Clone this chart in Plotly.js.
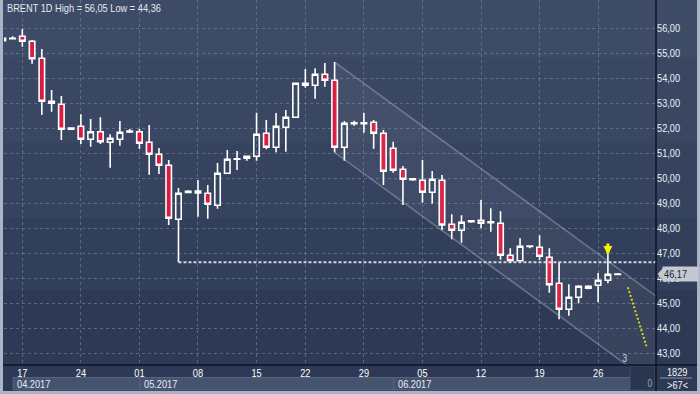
<!DOCTYPE html>
<html><head><meta charset="utf-8">
<script src="https://cdn.plot.ly/plotly-3.0.1.min.js"></script>
<style>html,body{margin:0;padding:0;background:#2d3a55;overflow:hidden}#chart{width:700px;height:394px}</style>
</head><body><div id="chart"></div>
<script>
// ---- data ----
const dates = ['2017-04-14','2017-04-16','2017-04-17','2017-04-18','2017-04-19','2017-04-20','2017-04-21','2017-04-23',
 '2017-04-24','2017-04-25','2017-04-26','2017-04-27','2017-04-28','2017-04-30',
 '2017-05-01','2017-05-02','2017-05-03','2017-05-04','2017-05-05','2017-05-07',
 '2017-05-08','2017-05-09','2017-05-10','2017-05-11','2017-05-12','2017-05-14',
 '2017-05-15','2017-05-16','2017-05-17','2017-05-18','2017-05-19',
 '2017-05-22','2017-05-23','2017-05-24','2017-05-25','2017-05-26','2017-05-28',
 '2017-05-29','2017-05-30','2017-05-31','2017-06-01','2017-06-02','2017-06-04',
 '2017-06-05','2017-06-06','2017-06-07','2017-06-08','2017-06-09','2017-06-11',
 '2017-06-12','2017-06-13','2017-06-14','2017-06-15','2017-06-16','2017-06-18',
 '2017-06-19','2017-06-20','2017-06-21','2017-06-22','2017-06-23','2017-06-25',
 '2017-06-26','2017-06-27','2017-06-28'];
const open  = [55.50,55.58,55.68,55.48,54.80,53.08,52.96,51.96, 52.08,51.56,51.86,51.44,51.56,51.85,
 51.86,51.44,50.96,50.52,48.36,49.43, 49.49,49.40,48.92,50.20,50.76,50.80,
 50.88,51.80,51.24,52.04,52.44, 53.80,53.72,54.16,53.92,51.24,52.18,
 52.18,52.24,51.80,51.20,50.36,49.94, 49.92,49.44,49.92,48.16,47.92,48.26,
 48.32,48.22,48.20,46.92,46.70,47.27, 47.24,46.84,45.80,44.76,45.24,45.68,
 45.72,45.92,46.15];
const high  = [55.62,55.68,55.97,55.53,55.17,53.53,53.29,52.02, 52.56,52.37,52.44,51.76,52.29,51.97,
 51.97,52.13,51.21,50.73,49.61,49.52, 49.93,49.73,50.61,51.13,51.09,50.88,
 52.62,52.33,52.61,52.73,53.80, 54.37,54.40,54.61,54.65,52.29,52.30,
 52.62,52.33,51.93,51.46,50.49,49.98, 50.73,50.29,50.13,48.56,48.52,48.32,
 49.13,48.80,48.68,47.20,47.60,47.29, 47.72,47.20,46.64,45.76,45.72,45.72,
 46.21,47.00,46.21];
const low   = [55.48,55.55,55.26,54.58,52.53,52.66,51.53,51.95, 51.37,51.26,51.37,50.42,51.30,51.81,
 51.17,50.14,50.17,48.13,46.64,49.40, 48.46,48.38,48.78,50.20,50.33,50.70,
 50.70,51.16,51.04,51.06,52.44, 53.62,53.18,53.66,51.03,50.70,52.10,
 51.82,51.18,49.73,50.22,48.93,49.90, 49.02,48.98,47.93,47.56,47.42,48.22,
 48.00,47.86,46.74,46.62,46.70,47.20, 46.73,45.42,44.36,44.50,45.00,45.56,
 45.04,45.80,46.12];
const close = [55.60,55.60,55.48,54.78,53.08,53.00,51.96,52.01, 51.56,51.86,51.46,51.60,51.84,51.89,
 51.40,50.96,50.52,48.40,49.40,49.48, 49.41,48.96,50.20,50.76,50.78,50.88,
 51.76,51.24,52.08,52.44,53.80, 53.72,54.16,53.92,51.24,52.20,52.22,
 52.22,51.80,50.28,50.32,49.96,49.98, 49.44,49.96,48.13,47.92,48.24,48.30,
 48.20,48.26,46.92,46.70,47.28,47.29, 46.88,45.74,44.76,45.24,45.68,45.60,
 45.92,46.16,46.17];

const tickDates  = ['2017-04-17','2017-04-24','2017-05-01','2017-05-08','2017-05-15','2017-05-22','2017-05-29','2017-06-05','2017-06-12','2017-06-19','2017-06-26'];
const priceTicks = [43,44,45,46,47,48,49,50,51,52,53,54,55,56];
const monthLabels = ['04.2017','05.2017','06.2017'];
const monthStarts = ['2017-04-16','2017-05-01','2017-06-01'];
const titleText = 'BRENT 1D High = 56,05 Low = 44,36';
const lastPrice = 46.17;
// trend channel (start at 25 May high / low, runs off to the right)
const chanStart = '2017-05-25';
const chanEndOffset = 33;
const chanUpper = [54.65, 45.27];
const chanLower = [51.04, 41.66];
// support level (low of 05 May)
const levelDate = '2017-05-05';
const levelValue = 46.64;
// projection (yellow dotted)
const projX = [64.05, 65.95];
const projY = [45.64, 43.28];
const markerDate = '2017-06-27';
const markerValue = 46.93;

// ---- layout helpers ----
const W=700,H=394,ML=4,MR=44,MT=0,MB=29;
const PW=W-ML-MR, PH=H-MT-MB;
const px2p = px => (px-ML)/PW;
const py2p = py => (H-MB-py)/PH;
const xIdx = d => dates.indexOf(d);
const xs = dates.map((d,i)=>i);
const fmt = v => v.toFixed(2).replace('.',',');
const FONT = "'Liberation Sans Narrow','Liberation Sans',Arial,sans-serif";

const traces = [];
const cs = xIdx(chanStart);
traces.push({type:'scatter',mode:'lines',x:[cs,cs+chanEndOffset],y:chanLower,
  line:{color:'rgba(190,200,222,0.38)',width:1.5},hoverinfo:'skip',showlegend:false});
traces.push({type:'scatter',mode:'lines',x:[cs,cs+chanEndOffset],y:chanUpper,fill:'tonexty',
  fillcolor:'rgba(255,255,255,0.05)',
  line:{color:'rgba(190,200,222,0.38)',width:1.5},hoverinfo:'skip',showlegend:false});
traces.push({type:'scatter',mode:'lines',x:[xIdx(levelDate),70],y:[levelValue,levelValue],
  line:{color:'rgba(225,228,235,0.9)',width:2,dash:'3px,2px'},hoverinfo:'skip',showlegend:false});
traces.push({type:'candlestick',x:xs,open:open,high:high,low:low,close:close,
  increasing:{line:{color:'#ffffff',width:1.6},fillcolor:'rgba(0,0,0,0)'},
  decreasing:{line:{color:'#ffffff',width:1.6},fillcolor:'#dc1a40'},
  whiskerwidth:0,hoverinfo:'skip',showlegend:false});
traces.push({type:'scatter',mode:'lines',x:projX,y:projY,
  line:{color:'#d6d61a',width:2,dash:'2px,2px'},hoverinfo:'skip',showlegend:false});

// background bands
const bandEdges=[0,57,143,218,290,365];
const bandCols=['#3e4b67','#3a4763','#36435f','#323f5a','#2e3a55'];
const shapes=[];
for(let i=0;i<bandCols.length;i++){
  shapes.push({type:'rect',xref:'paper',yref:'paper',x0:px2p(0),x1:px2p(700),y0:py2p(bandEdges[i+1]),y1:py2p(bandEdges[i]),
    fillcolor:bandCols[i],line:{width:0},layer:'below'});
}
shapes.push({type:'rect',xref:'paper',yref:'paper',x0:px2p(0),x1:px2p(700),y0:py2p(394),y1:py2p(365),fillcolor:'#2e3a55',line:{width:0},layer:'below'});
const mIdx = monthStarts.map(xIdx);
const mEnd = [mIdx[1],mIdx[2],64.3];
const annotations=[];
for(let i=0;i<monthLabels.length;i++){
  shapes.push({type:'rect',xref:'x',yref:'paper',x0:mIdx[i]+0.05,x1:mEnd[i],y0:py2p(390),y1:py2p(377.5),
    fillcolor:'#46536f',line:{color:'#56637e',width:1},layer:'below'});
  annotations.push({xref:'x',yref:'paper',x:mIdx[i]+0.25,y:py2p(384),text:monthLabels[i],showarrow:false,
    xanchor:'left',yanchor:'middle',align:'left',font:{family:FONT,size:11,color:'#e8edf4'}});
}
shapes.push({type:'rect',xref:'x',yref:'paper',x0:64.3,x1:66.8,y0:py2p(390),y1:py2p(366),
  fillcolor:'#2a3650',line:{color:'#3c4864',width:1},layer:'below'});
annotations.push({xref:'paper',yref:'paper',x:px2p(655),y:py2p(384),text:'0',showarrow:false,xanchor:'right',yanchor:'middle',
  font:{family:FONT,size:10,color:'#9aa6bb'}});
shapes.push({type:'line',xref:'paper',yref:'paper',x0:px2p(3),x1:px2p(697),y0:py2p(365),y1:py2p(365),line:{color:'#10151f',width:1.5}});
shapes.push({type:'line',xref:'paper',yref:'paper',x0:px2p(656),x1:px2p(656),y0:py2p(0),y1:py2p(392),line:{color:'#10151f',width:1.5}});
shapes.push({type:'line',xref:'paper',yref:'paper',x0:px2p(660),x1:px2p(692),y0:py2p(378),y1:py2p(378),line:{color:'#8a96aa',width:1}});
shapes.push({type:'rect',xref:'paper',yref:'paper',x0:px2p(0),x1:px2p(3),y0:py2p(394),y1:py2p(0),fillcolor:'#a9b5c6',line:{width:0}});
shapes.push({type:'rect',xref:'paper',yref:'paper',x0:px2p(697),x1:px2p(700),y0:py2p(394),y1:py2p(0),fillcolor:'#a9b5c6',line:{width:0}});
shapes.push({type:'rect',xref:'paper',yref:'paper',x0:px2p(0),x1:px2p(700),y0:py2p(394),y1:py2p(391),fillcolor:'#a9b5c6',line:{width:0}});
// notch of the last-price tag
const tagPy = 28.3+(56-lastPrice)*25;
const pU = (PH - tagPy + 6)/PH, pD = (PH - tagPy - 6)/PH, pM = (PH - tagPy)/PH;
shapes.push({type:'path',xref:'paper',yref:'paper',
  path:`M${px2p(657.5)},${pM} L${px2p(663)},${pU} L${px2p(663)},${pD} Z`,fillcolor:'#c4c8d2',line:{width:0}});

annotations.push({xref:'paper',yref:'paper',x:px2p(5),y:py2p(8.5),text:titleText,showarrow:false,xanchor:'left',yanchor:'middle',align:'left',
  font:{family:FONT,size:11,color:'#e4eaf1'}});
annotations.push({xref:'paper',yref:'paper',x:px2p(677),y:py2p(371.5),text:'1829',showarrow:false,xanchor:'center',yanchor:'middle',
  font:{family:FONT,size:11,color:'#eef2f7'}});
annotations.push({xref:'paper',yref:'paper',x:px2p(677),y:py2p(385),text:'&gt;67&lt;',showarrow:false,xanchor:'center',yanchor:'middle',
  font:{family:FONT,size:11,color:'#eef2f7'}});
annotations.push({xref:'paper',yref:'paper',x:px2p(625),y:py2p(358),text:'3',showarrow:false,xanchor:'center',yanchor:'middle',
  font:{family:FONT,size:10,color:'#c6d4ea'}});
annotations.push({xref:'paper',yref:'y',x:px2p(662),y:lastPrice,text:fmt(lastPrice),showarrow:false,xanchor:'left',yanchor:'middle',
  bgcolor:'#c4c8d2',borderpad:1,width:33,align:'left',font:{family:FONT,size:11,color:'#1b2233'}});
annotations.push({xref:'x',yref:'y',x:xIdx(markerDate),y:markerValue,ax:0,ay:-13,text:'',showarrow:true,
  arrowhead:2,arrowsize:0.6,arrowwidth:3,arrowcolor:'#f4f400'});

const layout = {
  width:W,height:H,margin:{l:ML,r:MR,t:MT,b:MB,pad:0},
  paper_bgcolor:'#2e3a55',plot_bgcolor:'rgba(0,0,0,0)',
  showlegend:false,boxgap:0.2,
  font:{family:FONT,size:11,color:'#ffffff'},
  xaxis:{type:'linear',range:[0.123,66.93],tickvals:tickDates.map(xIdx),ticktext:tickDates.map(d=>d.slice(8)),
    showgrid:true,gridcolor:'rgba(125,140,165,0.55)',griddash:'3px,3px',gridwidth:1,
    zeroline:false,showline:false,ticks:'',tickfont:{family:FONT,size:11,color:'#ffffff'},rangeslider:{visible:false},fixedrange:true},
  yaxis:{side:'right',range:[42.532,57.132],tickvals:priceTicks,ticktext:priceTicks.map(fmt),
    showgrid:true,gridcolor:'rgba(125,140,165,0.55)',griddash:'3px,3px',gridwidth:1,
    zeroline:false,showline:false,ticks:'',tickfont:{family:FONT,size:11,color:'#eaf0f8'},fixedrange:true},
  shapes:shapes,annotations:annotations
};
Plotly.newPlot('chart',traces,layout,{staticPlot:true,displayModeBar:false}).then(gd=>{
  // narrow the (Arial-Narrow-like) lettering of the original
  gd.querySelectorAll('svg text').forEach(t=>{
    if(!t.textContent) return;
    const w=t.getComputedTextLength();
    if(w>0){t.setAttribute('textLength',(w*0.84).toFixed(2));t.setAttribute('lengthAdjust','spacingAndGlyphs');}
  });
});
</script></body></html>
